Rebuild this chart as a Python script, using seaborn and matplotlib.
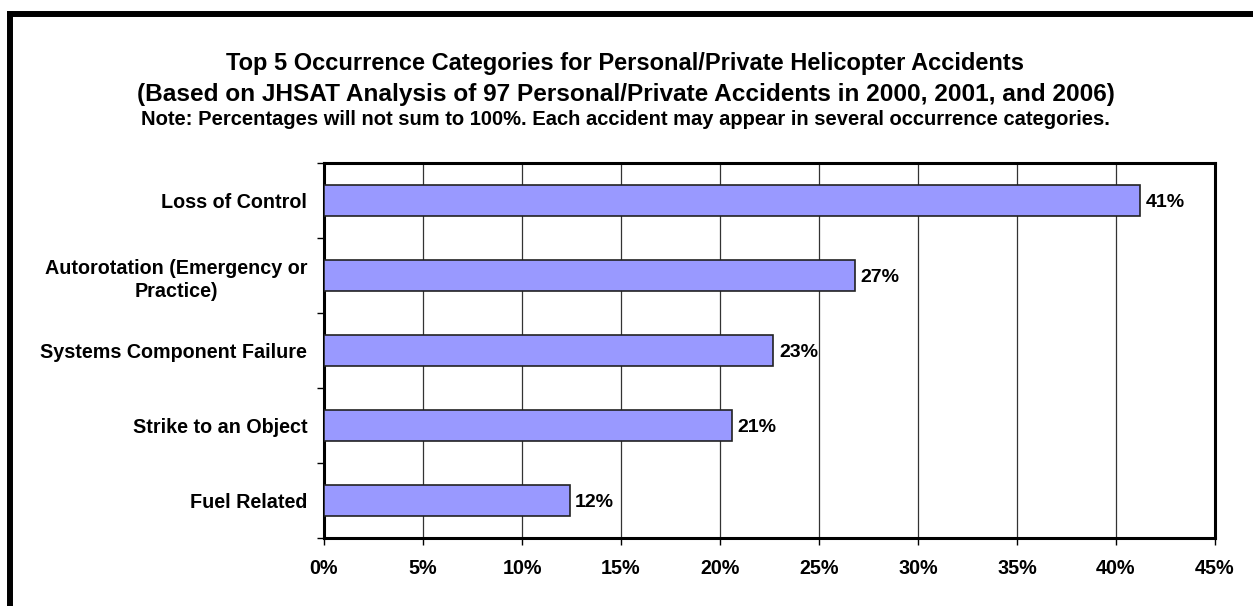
import matplotlib
matplotlib.use("Agg")
import matplotlib.pyplot as plt
import seaborn as sns
import pandas as pd
import numpy as np
from matplotlib.lines import Line2D
from matplotlib.ticker import FixedLocator, PercentFormatter

categories = ["Loss of Control", "Autorotation (Emergency or\nPractice)",
              "Systems Component Failure", "Strike to an Object", "Fuel Related"]
values = [41.2, 26.8, 22.7, 20.6, 12.4]
labels = ["41%", "27%", "23%", "21%", "12%"]
xticks = [0, 5, 10, 15, 20, 25, 30, 35, 40, 45]

sns.set_theme(style="white")
plt.rcParams['font.family'] = ['Liberation Sans', 'DejaVu Sans']
plt.rcParams['font.weight'] = 'bold'

df = pd.DataFrame({"cat": categories, "val": values})

fig = plt.figure(figsize=(12.53, 6.06), dpi=100)
fig.patch.set_facecolor("white")
ax = fig.add_axes([324/1253, 1-538/606, (1215-324)/1253, (538-163)/606])

sns.barplot(data=df, y="cat", x="val", orient="h", color="#9999FF",
            edgecolor="#222222", linewidth=1.2, width=0.41, saturation=1, ax=ax, zorder=3)

ax.set_xlim(0, 45)
ax.set_ylim(4.5, -0.5)
ax.set_xticks(xticks)
ax.xaxis.set_major_formatter(PercentFormatter(decimals=0))
ax.grid(axis="x", color="#333333", linewidth=0.9, zorder=0)
ax.set_axisbelow(True)
ax.set_xlabel("")
ax.set_ylabel("")

for s in ax.spines.values():
    s.set_visible(True)
    s.set_color("black")
    s.set_linewidth(2.2)

ax.tick_params(axis="x", length=5, width=1, color="black", pad=10,
               labelsize=14.2, labelcolor="black", bottom=True)
ax.tick_params(axis="y", which="major", length=0, pad=12,
               labelsize=14.2, labelcolor="black", left=True)
ax.yaxis.set_minor_locator(FixedLocator(np.arange(-0.5, 5.0, 1.0)))
ax.tick_params(axis="y", which="minor", length=5, width=1, color="black", left=True)
for t in ax.get_yticklabels():
    t.set_multialignment("center")
    t.set_fontweight("bold")
    t.set_linespacing(1.3)
for t in ax.get_xticklabels():
    t.set_fontweight("bold")

for i, (v, lab) in enumerate(zip(values, labels)):
    ax.annotate(lab, xy=(v, i), xytext=(4, -1.5), textcoords="offset points",
                ha="left", va="center", fontsize=14, fontweight="bold", color="black")

cx = 0.4992
fig.text(cx, 1-70/606, "Top 5 Occurrence Categories for Personal/Private Helicopter Accidents",
         ha="center", va="baseline", fontsize=17.0, fontweight="bold", color="black")
fig.text(cx, 1-101/606, "(Based on JHSAT Analysis of 97 Personal/Private Accidents in 2000, 2001, and 2006)",
         ha="center", va="baseline", fontsize=17.6, fontweight="bold", color="black")
fig.text(cx, 1-125/606, "Note: Percentages will not sum to 100%. Each accident may appear in several occurrence categories.",
         ha="center", va="baseline", fontsize=14.5, fontweight="bold", color="black")

# outer frame (top and left visible)
fig.add_artist(Line2D([10/1253, 1.05], [1-14/606, 1-14/606], transform=fig.transFigure,
                      color="black", linewidth=4.3, solid_capstyle="projecting"))
fig.add_artist(Line2D([10/1253, 10/1253], [1-14/606, -0.05], transform=fig.transFigure,
                      color="black", linewidth=4.3, solid_capstyle="projecting"))

fig.savefig("out.png", dpi=100, facecolor="white")
